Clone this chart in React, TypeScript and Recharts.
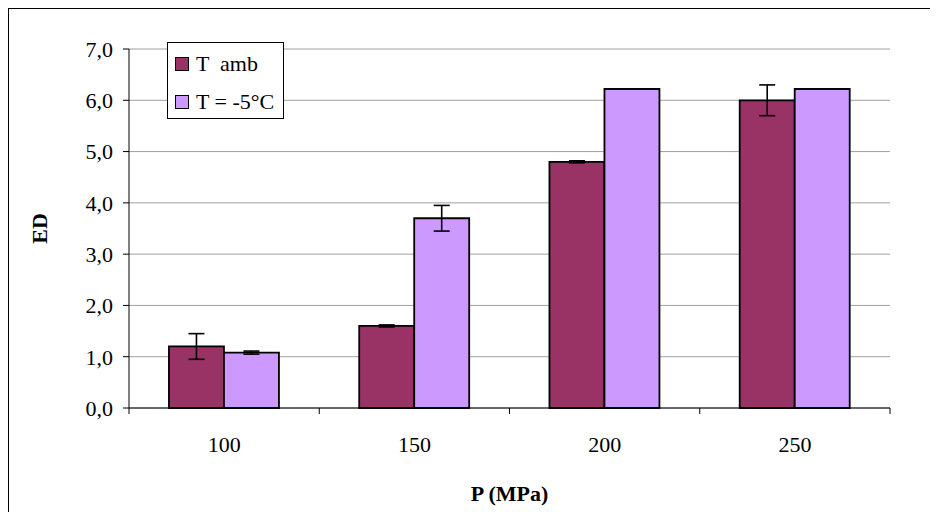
import React from 'react';
import {
  BarChart,
  Bar,
  XAxis,
  YAxis,
  CartesianGrid,
  ErrorBar,
  Label,
} from 'recharts';

const pressures = ['100', '150', '200', '250'];
const edAmb = [1.2, 1.6, 4.8, 6.0];
const edCold = [1.08, 3.7, 6.22, 6.22];
const errAmb = [0.25, 0.02, 0.02, 0.3];
const errCold = [0.03, 0.25, 0, 0];
const yTicks = [0, 1, 2, 3, 4, 5, 6, 7];
const seriesNames = ['T  amb', 'T = -5°C'];

const AMB = '#993366';
const COLD = '#CC99FF';
const FONT = "'Liberation Serif', 'Times New Roman', serif";

const data = pressures.map((p, i) => ({
  p,
  amb: edAmb[i],
  cold: edCold[i],
  errAmb: errAmb[i],
  errCold: errCold[i],
}));

const XTick = (props: any) => {
  const { x, y, payload, index } = props;
  const half = payload?.offset ?? 95;
  return (
    <g>
      <line x1={x - half} y1={y - 8} x2={x - half} y2={y - 2} stroke="#000" />
      {index === pressures.length - 1 && (
        <line x1={x + half} y1={y - 8} x2={x + half} y2={y - 2} stroke="#000" />
      )}
      <text x={x} y={y + 36} textAnchor="middle" fontSize={22} fontFamily={FONT} fill="#000">
        {payload.value}
      </text>
    </g>
  );
};

const LegendBox = () => (
  <div
    style={{
      position: 'absolute',
      left: 158,
      top: 33,
      border: '1px solid #000',
      background: '#fff',
      width: 117,
      height: 77,
      fontFamily: FONT,
      fontSize: 22,
      color: '#000',
      boxSizing: 'border-box',
      padding: '2px 0 0 7px',
    }}
  >
    {seriesNames.map((name, i) => (
      <div key={name} style={{ display: 'flex', alignItems: 'center', height: 38 }}>
        <span
          style={{
            display: 'inline-block',
            width: 12,
            height: 12,
            background: i === 0 ? AMB : COLD,
            border: '1px solid #000',
            marginRight: 7,
            flexShrink: 0,
          }}
        />
        <span style={{ whiteSpace: 'pre' }}>{name}</span>
      </div>
    ))}
  </div>
);

export default function App() {
  return (
    <div
      style={{
        borderLeft: '1px solid #000',
        borderTop: '1px solid #000',
        width: 929,
        height: 503,
        position: 'relative',
        fontFamily: FONT,
      }}
    >
      <BarChart
        width={929}
        height={503}
        data={data}
        margin={{ top: 40, right: 48, bottom: 10, left: 60 }}
        barCategoryGap="21%"
        barGap={0}
      >
        <CartesianGrid vertical={false} stroke="#a0a0a0" />
        <XAxis
          dataKey="p"
          height={94}
          stroke="#000"
          tickLine={false}
          tick={<XTick />}
          interval={0}
        >
          <Label
            value="P (MPa)"
            position="insideBottom"
            offset={1}
            style={{ fontWeight: 'bold', fontSize: 22, fill: '#000', fontFamily: FONT }}
          />
        </XAxis>
        <YAxis
          width={60}
          domain={[0, 7]}
          ticks={yTicks}
          interval={0}
          stroke="#000"
          tickSize={6}
          tickMargin={10}
          tick={{ fill: '#000', fontSize: 22, fontFamily: FONT }}
          tickFormatter={(v: number) => v.toFixed(1).replace('.', ',')}
        >
          <Label
            value="ED"
            angle={-90}
            position="insideLeft"
            offset={-30}
            style={{ fontWeight: 'bold', fontSize: 22, fill: '#000', fontFamily: FONT, textAnchor: 'middle' }}
          />
        </YAxis>
        <Bar dataKey="amb" name={seriesNames[0]} fill={AMB} stroke="#000" strokeWidth={1.8} isAnimationActive={false}>
          <ErrorBar dataKey="errAmb" width={8} stroke="#000" strokeWidth={1.6} direction="y" />
        </Bar>
        <Bar dataKey="cold" name={seriesNames[1]} fill={COLD} stroke="#000" strokeWidth={1.8} isAnimationActive={false}>
          <ErrorBar dataKey="errCold" width={8} stroke="#000" strokeWidth={1.6} direction="y" />
        </Bar>
      </BarChart>
      <LegendBox />
    </div>
  );
}
